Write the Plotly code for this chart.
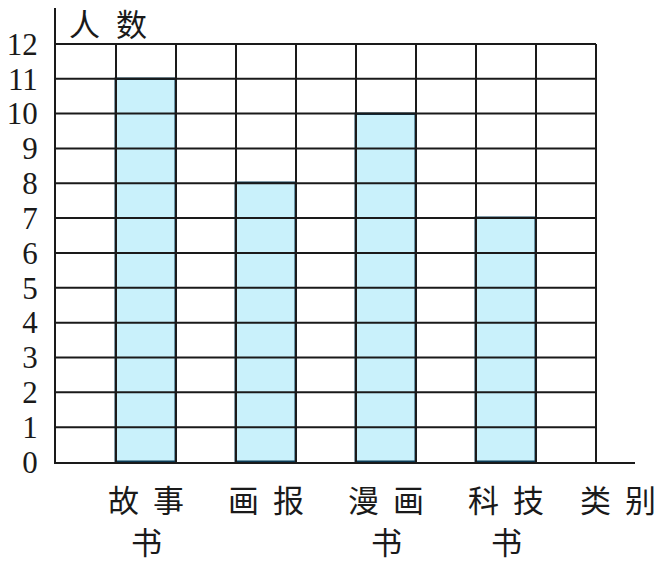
import plotly.graph_objects as go

# 数据
categories = ["故事书", "画报", "漫画书", "科技书"]
counts = [11, 8, 10, 7]
bar_pos = [1.5, 3.5, 5.5, 7.5]
y_ticks = list(range(0, 13))
x_title = "类别"
y_title = "人数"

n_cols = 9
y_max = 12

fig = go.Figure()

fig.add_trace(go.Bar(
    x=bar_pos, y=counts, width=1,
    marker=dict(color="#c9f1fb", line=dict(color="#0b3a55", width=2.5)),
    hoverinfo="skip", showlegend=False,
))

# 网格
grid = dict(color="#1a1a1a", width=2)
for v in range(1, y_max + 1):
    fig.add_shape(type="line", x0=0, x1=n_cols, y0=v, y1=v, line=grid, layer="above")
for c in range(1, n_cols + 1):
    fig.add_shape(type="line", x0=c, x1=c, y0=0, y1=y_max, line=grid, layer="above")

cjk = dict(family="Noto Sans CJK SC", size=31, color="#1a1a1a")

# 类别文字，逐字排版
def put_label(text, x):
    lines = [text[:2], text[2:]] if len(text) > 2 else [text]
    for li, line in enumerate(lines):
        for ci, ch in enumerate(line):
            fig.add_annotation(
                x=x, y=0, xref="x", yref="paper", text=ch, showarrow=False,
                xanchor="center", yanchor="middle",
                xshift=(ci - (len(line) - 1) / 2) * 45, yshift=-36 - li * 42,
                font=cjk,
            )

for cat, x in zip(categories, bar_pos):
    put_label(cat, x)
put_label(x_title, 9.37)

for ci, ch in enumerate(y_title):
    fig.add_annotation(
        x=0, y=1, xref="x", yref="paper", text=ch, showarrow=False,
        xanchor="center", yanchor="middle", xshift=28 + ci * 47, yshift=-14,
        font=cjk,
    )

fig.update_layout(
    width=656, height=563,
    margin=dict(l=56, r=21, t=8, b=101),
    plot_bgcolor="white", paper_bgcolor="white",
    bargap=0,
    xaxis=dict(range=[0, 9.65], showgrid=False, zeroline=False, showticklabels=False,
               showline=True, linecolor="#1a1a1a", linewidth=2, ticks="",
               automargin=False),
    yaxis=dict(range=[0, 13.03], showgrid=False, zeroline=False,
               tickvals=y_ticks, ticktext=[str(t) for t in y_ticks],
               tickfont=dict(family="Liberation Serif", size=31, color="#1a1a1a"),
               showline=True, linecolor="#1a1a1a", linewidth=2, ticks="",
               ticklabelstandoff=10, automargin=False),
)

# 去掉页面默认边距
fig.write_html("out.html", config={"displayModeBar": False},
               post_script="document.body.style.margin='0';")
